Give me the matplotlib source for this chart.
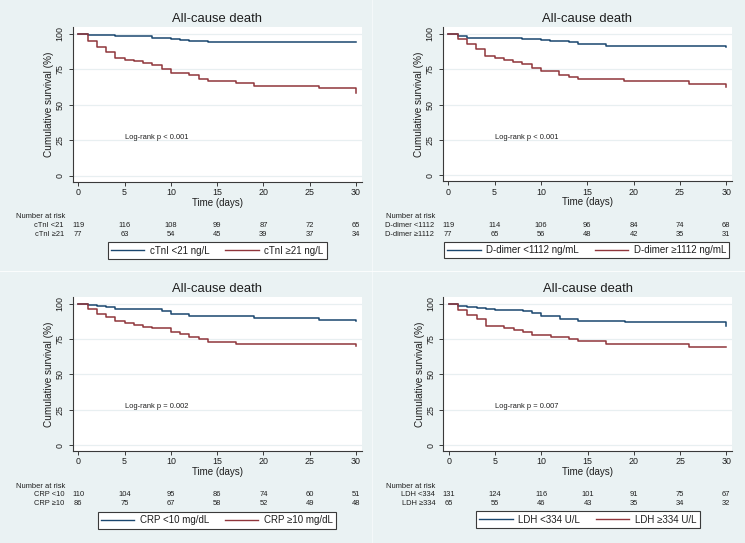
import matplotlib
matplotlib.use("Agg")
import matplotlib.pyplot as plt
from matplotlib.lines import Line2D
from matplotlib.transforms import blended_transform_factory

plt.rcParams['font.family'] = ['Liberation Sans', 'DejaVu Sans']

W, H = 745, 543
BG = '#eaf2f3'
NAVY = '#1a476f'
MAROON = '#90353b'
AXC = '#3a3a3a'
TXT = '#1e1e1e'

title = "All-cause death"
xlabel = "Time (days)"
ylabel = "Cumulative survival (%)"
xticks = [0, 5, 10, 15, 20, 25, 30]
yticks = [0, 25, 50, 75, 100]

# ---- Panel 1: cTnI ----
p1_low_t = [0, 1, 4, 8, 10, 11, 12, 14, 30]
p1_low_s = [100, 99.1, 98.1, 97.2, 96.5, 95.8, 94.8, 93.9, 93.9]
p1_high_t = [0, 1, 2, 3, 4, 5, 6, 7, 8, 9, 10, 12, 13, 14, 17, 19, 26, 30]
p1_high_s = [100, 95.1, 90.6, 86.9, 83.1, 81.7, 80.5, 79.1, 77.7, 75.4, 72.1, 70.7, 68.1, 66.4, 65.0, 63.1, 61.7, 58.0]
p1_risk_low = [119, 116, 108, 99, 87, 72, 65]
p1_risk_high = [77, 63, 54, 45, 39, 37, 34]
p1_row_labels = ["cTnI <21", "cTnI \u226521"]
p1_legend = ["cTnI <21 ng/L", "cTnI \u226521 ng/L"]
p1_pval = "Log-rank p < 0.001"

# ---- Panel 2: D-dimer ----
p2_low_t = [0, 1, 2, 8, 10, 11, 13, 14, 17, 30]
p2_low_s = [100, 98.3, 97.4, 96.7, 95.8, 95.0, 94.1, 92.7, 91.7, 90.8]
p2_high_t = [0, 1, 2, 3, 4, 5, 6, 7, 8, 9, 10, 12, 13, 14, 19, 26, 30]
p2_high_s = [100, 96.2, 93.2, 89.6, 84.4, 83.3, 81.8, 80.4, 79.0, 76.2, 73.8, 70.8, 69.6, 68.4, 66.5, 64.9, 62.7]
p2_risk_low = [119, 114, 106, 96, 84, 74, 68]
p2_risk_high = [77, 65, 56, 48, 42, 35, 31]
p2_row_labels = ["D-dimer <1112", "D-dimer \u22651112"]
p2_legend = ["D-dimer <1112 ng/mL", "D-dimer \u22651112 ng/mL"]
p2_pval = "Log-rank p < 0.001"

# ---- Panel 3: CRP ----
p3_low_t = [0, 1, 2, 3, 4, 9, 10, 12, 19, 26, 30]
p3_low_s = [100, 99.1, 98.4, 97.4, 96.2, 94.8, 92.9, 91.5, 90.1, 88.7, 87.5]
p3_high_t = [0, 1, 2, 3, 4, 5, 6, 7, 8, 10, 11, 12, 13, 14, 17, 30]
p3_high_s = [100, 96.0, 92.9, 90.6, 87.5, 86.1, 85.0, 83.8, 82.8, 80.0, 78.4, 76.7, 75.1, 72.7, 71.5, 70.1]
p3_risk_low = [110, 104, 95, 86, 74, 60, 51]
p3_risk_high = [86, 75, 67, 58, 52, 49, 48]
p3_row_labels = ["CRP <10", "CRP \u226510"]
p3_legend = ["CRP <10 mg/dL", "CRP \u226510 mg/dL"]
p3_pval = "Log-rank p = 0.002"

# ---- Panel 4: LDH ----
p4_low_t = [0, 1, 2, 3, 4, 5, 8, 9, 10, 12, 14, 19, 30]
p4_low_s = [100, 98.6, 97.6, 96.9, 96.2, 95.3, 94.6, 93.6, 91.3, 89.4, 88.0, 86.8, 84.5]
p4_high_t = [0, 1, 2, 3, 4, 6, 7, 8, 9, 11, 13, 14, 17, 26, 30]
p4_high_s = [100, 95.3, 92.2, 88.9, 84.2, 82.8, 81.4, 79.8, 78.1, 76.7, 75.3, 73.4, 71.3, 69.4, 69.4]
p4_risk_low = [131, 124, 116, 101, 91, 75, 67]
p4_risk_high = [65, 55, 46, 43, 35, 34, 32]
p4_row_labels = ["LDH <334", "LDH \u2265334"]
p4_legend = ["LDH <334 U/L", "LDH \u2265334 U/L"]
p4_pval = "Log-rank p = 0.007"

panels = [
    dict(rect=(72.7, 27, 361.7, 181.7), lo=(p1_low_t, p1_low_s), hi=(p1_high_t, p1_high_s),
         rl=p1_risk_low, rh=p1_risk_high, rows=p1_row_labels, leg=p1_legend, p=p1_pval,
         nar_x=16, lab_r=64, leg_c=(217.5, 250.5)),
    dict(rect=(442.7, 27.3, 732, 181.3), lo=(p2_low_t, p2_low_s), hi=(p2_high_t, p2_high_s),
         rl=p2_risk_low, rh=p2_risk_high, rows=p2_row_labels, leg=p2_legend, p=p2_pval,
         nar_x=386, lab_r=434.3, leg_c=(586.7, 250.0)),
    dict(rect=(72.7, 297, 361.7, 451), lo=(p3_low_t, p3_low_s), hi=(p3_high_t, p3_high_s),
         rl=p3_risk_low, rh=p3_risk_high, rows=p3_row_labels, leg=p3_legend, p=p3_pval,
         nar_x=16, lab_r=64.3, leg_c=(217, 520.3)),
    dict(rect=(443.3, 297, 732, 451), lo=(p4_low_t, p4_low_s), hi=(p4_high_t, p4_high_s),
         rl=p4_risk_low, rh=p4_risk_high, rows=p4_row_labels, leg=p4_legend, p=p4_pval,
         nar_x=386, lab_r=435.3, leg_c=(587.8, 519.8)),
]

fig = plt.figure(figsize=(W / 100, H / 100), dpi=100, facecolor=BG)

# faint white separators between panels
fig.add_artist(Line2D([372 / W, 372 / W], [0, 1], color='white', lw=0.6, alpha=0.6,
                      transform=fig.transFigure))
fig.add_artist(Line2D([0, 1], [1 - 271 / H, 1 - 271 / H], color='white', lw=0.7, alpha=0.8,
                      transform=fig.transFigure))


def fx(x):
    return x / W


def fy(y):
    return 1 - y / H


for P in panels:
    l, t, r, b = P['rect']
    ax = fig.add_axes([fx(l), fy(b), (r - l) / W, (b - t) / H])
    ax.set_facecolor('white')
    ax.set_xlim(-0.6, 30.62)
    ax.set_ylim(-4.2, 104.7)
    for yv in yticks:
        ax.axhline(yv, color='#e8eff1', lw=0.9, zorder=0)
    ax.step(P['lo'][0], P['lo'][1], where='post', color=NAVY, lw=1.1, zorder=3)
    ax.step(P['hi'][0], P['hi'][1], where='post', color=MAROON, lw=1.1, zorder=3)

    for s in ['top', 'right']:
        ax.spines[s].set_visible(False)
    for s in ['left', 'bottom']:
        ax.spines[s].set_color(AXC)
        ax.spines[s].set_linewidth(0.8)
    ax.set_xticks(xticks)
    ax.set_yticks(yticks)
    ax.tick_params(axis='both', direction='out', length=2.6, width=0.7, color=AXC,
                   labelsize=6.4, labelcolor=TXT)
    ax.tick_params(axis='x', pad=2.0)
    ax.tick_params(axis='y', pad=3.2)
    for lab in ax.get_yticklabels():
        lab.set_rotation(90)
        lab.set_va('center')

    cx = (l + r) / 2
    fig.text(fx(cx), fy(t - 8.3), title, ha='center', va='center', fontsize=9.4, color=TXT)
    fig.text(fx(cx), fy(b + 21), xlabel, ha='center', va='center', fontsize=7.0, color=TXT)
    fig.text(fx(l - 23.5), fy((t + b) / 2), ylabel, ha='center', va='center', rotation=90,
             fontsize=7.2, color=TXT)

    ax.text(5, 27, P['p'], ha='left', va='center', fontsize=5.4, color=TXT)

    # number at risk table
    tr = blended_transform_factory(ax.transData, fig.transFigure)
    fig.text(fx(P['nar_x']), fy(b + 35), "Number at risk", ha='left', va='center',
             fontsize=5.4, color=TXT)
    for row, (lab, vals) in enumerate(zip(P['rows'], [P['rl'], P['rh']])):
        yy = fy(b + 43.8 + 9.0 * row)
        fig.text(fx(P['lab_r']), yy, lab, ha='right', va='center', fontsize=5.4, color=TXT)
        for xv, v in zip(xticks, vals):
            ax.text(xv, yy, str(v), ha='center', va='center', fontsize=5.4, color=TXT,
                    transform=tr, clip_on=False)

    handles = [Line2D([], [], color=NAVY, lw=1.0), Line2D([], [], color=MAROON, lw=1.0)]
    lg = ax.legend(handles, P['leg'], loc='center', ncol=2,
                   bbox_to_anchor=(fx(P['leg_c'][0]), fy(P['leg_c'][1])),
                   bbox_transform=fig.transFigure, fontsize=7.0, frameon=True,
                   fancybox=False, edgecolor=AXC, facecolor='white', framealpha=1,
                   handlelength=3.4, handletextpad=0.6, columnspacing=1.6,
                   borderpad=0.35, borderaxespad=0)
    lg.get_frame().set_linewidth(0.8)
    for tx in lg.get_texts():
        tx.set_color(TXT)

fig.savefig('out.png', dpi=100, facecolor=BG)
